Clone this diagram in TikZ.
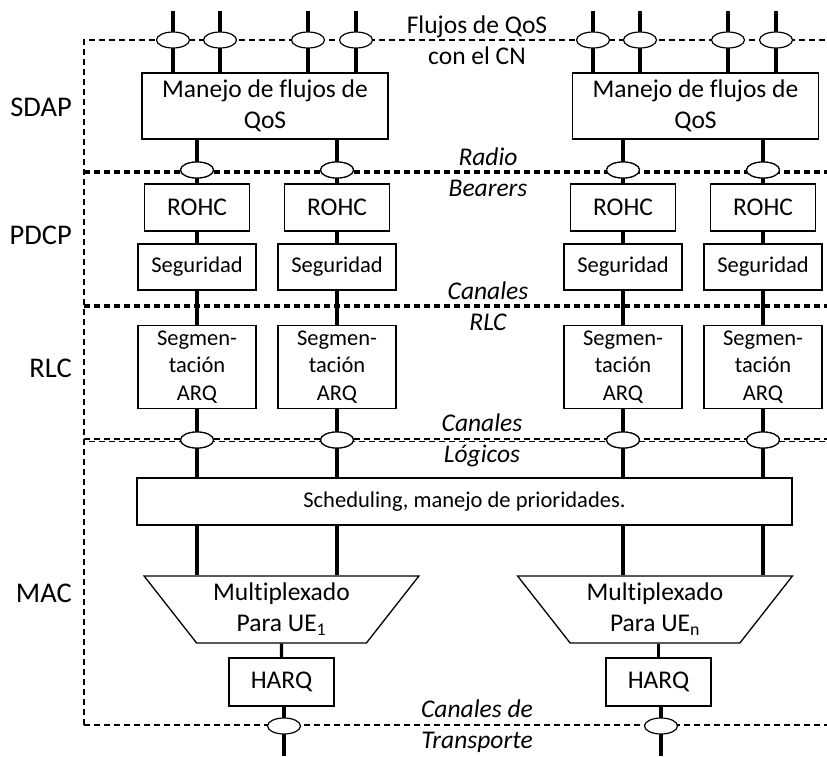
\documentclass[tikz,border=0pt]{standalone}
\usepackage{fontspec}
\setmainfont{Carlito}[Ligatures=NoCommon]
\usetikzlibrary{shapes.geometric}
\begin{document}
\begin{tikzpicture}[x=1pt,y=-1pt,
  box/.style={draw,line width=1.3pt,fill=white,inner sep=0pt,align=center},
  bigtxt/.style={font=\fontsize{25.5}{31}\selectfont},
  smalltxt/.style={font=\fontsize{22.5}{27.5}\selectfont},
  layer/.style={font=\fontsize{28.5}{34}\selectfont,anchor=east,inner sep=0pt},
  chan/.style={font=\fontsize{25.5}{31}\selectfont\itshape,align=center,inner sep=0pt},
  sdapbox/.style={box,bigtxt,minimum width=246,minimum height=66},
  rohcbox/.style={box,bigtxt,minimum width=105,minimum height=47},
  secbox/.style={box,smalltxt,minimum width=118,minimum height=46},
  rlcbox/.style={box,smalltxt,minimum width=118,minimum height=83},
  harqbox/.style={box,bigtxt,minimum width=105,minimum height=48},
  mux/.style={trapezium,shape border rotate=180,trapezium angle=51.1,
    trapezium stretches=true,minimum width=275,minimum height=67,
    draw,line width=1.3pt,fill=white,inner sep=0pt,align=center,bigtxt},
  port/.style={ellipse,draw,fill=white,line width=1.2pt,
    minimum width=33,minimum height=16,inner sep=0pt},
  link/.style={line width=3.3pt},
  sepline/.style={dash pattern=on 6pt off 4pt,line width=1.2pt},
  sepshift/.style={dash pattern=on 6pt off 4pt,dash phase=5pt,line width=1.2pt}
]
\useasboundingbox (0,0) rectangle (827,756);

% layer borders
\draw[sepline] (84,725) -- (84,40) -- (827,40);
\draw[sepline] (84,725) -- (827,725);
\draw[sepline] (84,171) -- (827,171);
\draw[sepline] (84,173) -- (827,173);
\draw[sepline] (84,305) -- (827,305);
\draw[sepline] (84,307) -- (827,307);
\draw[sepline] (84,439) -- (827,439);
\draw[sepshift] (84,441.5) -- (827,441.5);

% layer names
\node[layer] (lsdap) at (72,107) {SDAP};
\node[layer] (lpdcp) at (72,235) {PDCP};
\node[layer] (lrlc)  at (72,368) {RLC};
\node[layer] (lmac)  at (72,593) {MAC};

% interface names
\node[bigtxt,align=center,inner sep=0pt] (iqos) at (477,40) {Flujos de QoS\\con el CN};
\node[chan] (irb)  at (488,172) {Radio\\Bearers};
\node[chan] (irlc) at (488,306) {Canales\\RLC};
\node[chan] (ilog) at (482,440) {Canales\\Lógicos};
\node[chan] (itr)  at (477,726) {Canales de\\Transporte};

% SDAP
\node[sdapbox] (sdapL) at (265,106) {Manejo de flujos de\\QoS};
\node[sdapbox] (sdapR) at (695.5,106) {Manejo de flujos de\\QoS};

% QoS flows entering SDAP
\foreach \i/\x/\b in {1/173/sdapL,2/220/sdapL,3/308/sdapL,4/356/sdapL,
                      5/593/sdapR,6/640/sdapR,7/728/sdapR,8/776/sdapR}{
  \coordinate (top\i) at (\x,11);
  \draw[link] (top\i) -- (top\i |- \b.north);
  \node[port] (q\i) at (\x,40) {};
}

% per-bearer chains
\foreach \k/\x/\b in {1/197/sdapL,2/337/sdapL,3/623/sdapR,4/763/sdapR}{
  \coordinate (col\k) at (\x,0);
  \node[rohcbox] (rohc\k) at (\x,207.5) {ROHC};
  \node[secbox]  (sec\k)  at (\x,267) {Seguridad};
  \node[rlcbox]  (rlc\k)  at (\x,367) {Segmen-\\tación\\ARQ};
  \coordinate (bs\k) at (col\k |- \b.south);
  \draw[link] (bs\k) -- (rohc\k);
  \draw[link] (rohc\k) -- (sec\k);
  \draw[link] (sec\k) -- (rlc\k);
  \node[port] (r\k) at (\x,170) {};
  \node[port] (l\k) at (\x,440) {};
}

% MAC
\node[box,smalltxt,minimum width=655,minimum height=47] (sched) at (464.5,501.5)
  {Scheduling, manejo de prioridades.};
\draw[link] (rlc1) -- (l1 |- sched.north);
\draw[link] (rlc2) -- (l2 |- sched.north);
\draw[link] (rlc3) -- (l3 |- sched.north);
\draw[link] (rlc4) -- (l4 |- sched.north);
\node[port] at (l1) {};
\node[port] at (l2) {};
\node[port] at (l3) {};
\node[port] at (l4) {};

\node[mux] (muxL) at (281.5,609.5) {Multiplexado\\Para UE\textsubscript{1}};
\node[mux] (muxR) at (655,609.5) {Multiplexado\\Para UE\textsubscript{n}};
\draw[link] (l1 |- sched.south) -- (l1 |- muxL.north);
\draw[link] (l2 |- sched.south) -- (l2 |- muxL.north);
\draw[link] (l3 |- sched.south) -- (l3 |- muxR.north);
\draw[link] (l4 |- sched.south) -- (l4 |- muxR.north);

\node[harqbox] (harqL) at (281.5,682) {HARQ};
\node[harqbox] (harqR) at (658.5,682) {HARQ};
\draw[link] (muxL.south) -- (harqL);
\draw[link] (harqR |- muxR.south) -- (harqR);

\coordinate (outL) at (284,756);
\coordinate (outR) at (661,756);
\draw[link] (harqL.south -| outL) -- (outL);
\draw[link] (harqR.south -| outR) -- (outR);
\node[port] (tL) at (284,726) {};
\node[port] (tR) at (661,726) {};

% redraw bearer ports over their links
\foreach \k in {1,...,4}{ \node[port] at (r\k) {}; }
\end{tikzpicture}
\end{document}
